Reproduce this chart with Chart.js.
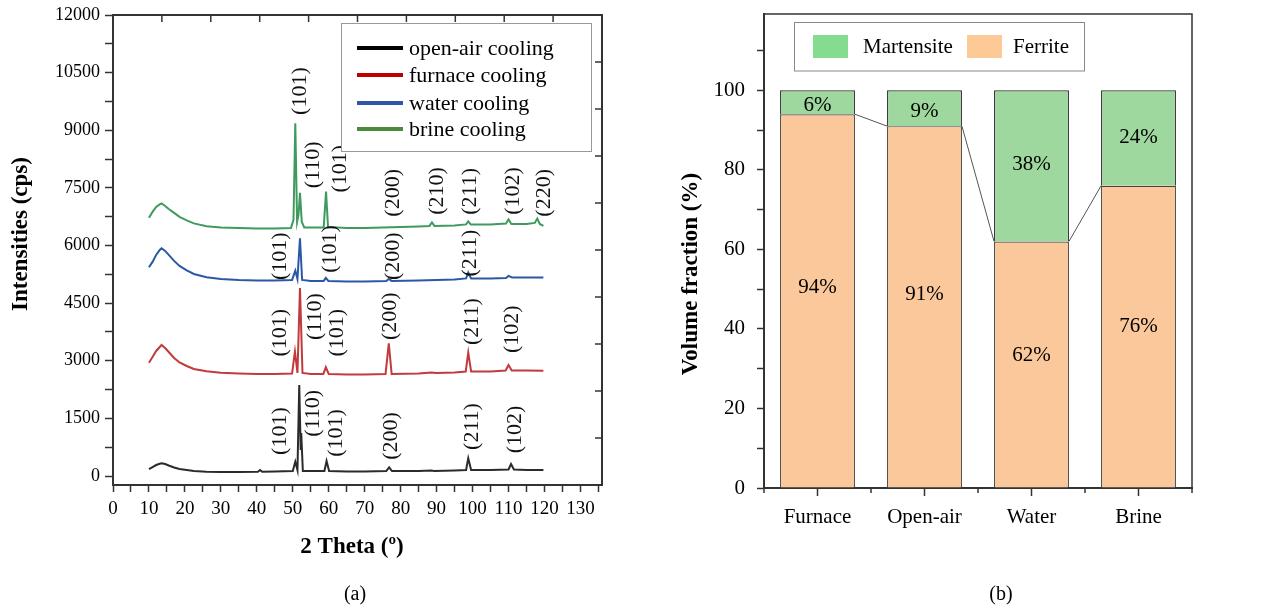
<!DOCTYPE html>
<html><head><meta charset="utf-8">
<script src="https://cdn.jsdelivr.net/npm/chart.js@4.4.0/dist/chart.umd.min.js"></script>
<style>
html,body{margin:0;padding:0;background:#fff;}
#wrap{position:relative;width:1277px;height:608px;overflow:hidden;background:#fff;}
#ca{position:absolute;left:0;top:0;}
#cb{position:absolute;left:640px;top:0;}
</style></head><body>
<div id="wrap"><canvas id="ca" width="640" height="608"></canvas><canvas id="cb" width="637" height="608"></canvas></div>
<script>
// ---------------- DATA: panel (a) XRD patterns [2theta, intensity] ----------------
const openAirXRD = [[10,182],[11,234],[12,286],[13,318],[13.5,331],[14.5,312],[15.5,273],[17,221],[18.5,182],[20.5,156],[22.5,130],[26,112],[30,104],[35,104],[40.3,109],[40.9,156],[41.5,109],[45,117],[50,130],[50.7,372],[51.3,156],[51.8,2370],[52.2,677],[52.35,1120],[52.8,130],[55,130],[58.8,130],[59.4,391],[60.1,130],[65,117],[70,117],[76,130],[76.8,226],[77.6,130],[85,130],[88.5,143],[89.3,130],[95,143],[98.2,156],[98.8,461],[99.6,156],[105,156],[110,169],[110.7,312],[111.5,169],[115,156],[119.7,156]];
const furnaceXRD = [[10,2950],[11,3099],[12,3255],[13,3359],[13.5,3411],[14.5,3333],[15.5,3229],[17,3073],[18.5,2956],[20.5,2864],[22.5,2786],[26,2726],[30,2690],[35,2669],[40,2656],[45,2656],[49.8,2669],[50.6,3237],[51.3,2682],[52.0,4890],[52.7,2682],[55,2656],[58.5,2656],[59.2,2830],[60,2656],[65,2643],[70,2643],[75.8,2656],[76.7,3455],[77.5,2656],[85,2669],[88.5,2695],[90,2682],[95,2695],[98.1,2721],[98.8,3211],[99.6,2721],[105,2721],[109.2,2747],[110,2890],[110.9,2747],[115,2747],[119.7,2742]];
const waterXRD = [[10,5435],[11,5573],[12,5755],[13,5885],[13.5,5929],[14.5,5859],[15.5,5755],[17,5599],[18.5,5468],[20.5,5351],[22.5,5260],[26,5174],[30,5130],[35,5104],[40,5091],[45,5091],[49.8,5104],[50.7,5346],[51.3,5130],[52.0,6190],[52.6,5104],[55,5078],[58.6,5078],[59.2,5156],[59.9,5078],[65,5065],[70,5065],[76,5078],[76.7,5130],[77.5,5078],[85,5091],[90,5104],[95,5117],[98.2,5143],[98.8,5294],[99.6,5143],[105,5143],[109.3,5156],[110,5208],[111,5169],[115,5169],[119.7,5169]];
const brineXRD = [[10,6720],[11,6875],[12,7005],[13,7070],[13.5,7095],[14.5,7030],[15.5,6950],[17,6850],[18.5,6745],[20.5,6653],[22.5,6575],[26,6500],[30,6471],[35,6458],[40,6445],[45,6445],[49.5,6458],[50.2,6666],[50.7,9184],[51.2,6614],[51.6,6796],[52.0,7370],[52.5,6614],[53.2,6470],[58.6,6470],[59.25,7403],[59.8,6484],[65,6458],[70,6458],[75,6470],[80,6484],[85,6497],[88.0,6510],[88.7,6601],[89.4,6510],[95,6523],[98.2,6549],[98.8,6627],[99.5,6549],[105,6549],[109.3,6575],[110,6679],[110.8,6562],[115,6562],[117.3,6588],[118,6700],[118.7,6562],[119.7,6510]];

const seriesNames = ['open-air cooling','furnace cooling','water cooling','brine cooling'];

// axis ticks of panel (a)
const thetaTicks = [0,5,10,15,20,25,30,35,40,45,50,55,60,65,70,75,80,85,90,95,100,105,110,115,120,125,130,135];
const intensityTicks = [0,750,1500,2250,3000,3750,4500,5250,6000,6750,7500,8250,9000,9750,10500,11250,12000];

// peak labels: [text, 2theta, intensity at label start]
const openAirPeaks = [['(101)',46.4,550],['(110)',55.7,1020],['(101)',62.2,500],['(200)',77.5,420],['(211)',99.8,680],['(102)',111.9,590]];
const furnacePeaks = [['(101)',46.4,3110],['(110)',56.2,3540],['(101)',62.4,3110],['(200)',77.1,3540],['(211)',99.8,3410],['(102)',111,3200]];
const waterPeaks = [['(101)',46.4,5100],['(101)',60.4,5290],['(200)',78.0,5100],['(211)',99.4,5190]];
const brinePeaks = [['(101)',52.1,9400],['(110)',55.7,7490],['(101)',63.1,7380],['(200)',77.9,6750],['(210)',90.1,6800],['(211)',99.4,6800],['(102)',111.4,6800],['(220)',119.8,6750]];

// ---------------- DATA: panel (b) phase fractions ----------------
const phaseCategories = ['Furnace','Open-air','Water','Brine'];
const ferriteValues = [94,91,62,76];
const martensiteValues = [6,9,38,24];

// ---------------- styles ----------------
const SERIF = "'Liberation Serif','Times New Roman',serif";
Chart.defaults.font.family = SERIF;
Chart.defaults.color = '#000';
Chart.defaults.animation = false;

const lineColors = ['#2b2b2b','#c23a3c','#2b58a6','#3f9a5f'];
const legendColors = ['#000000','#c00000','#2e56a6','#4a8a3b'];
const AXIS = '#333';

function toXY(arr){ return arr.map(p=>({x:p[0],y:p[1]})); }
function setTicks(list){ return s => { s.ticks = list.map(v=>({value:v})); }; }

const panelA = {
  id:'panelA',
  afterDraw(chart){
    const {ctx, chartArea:a, scales:{x,y}} = chart;
    ctx.save();
    ctx.strokeStyle = AXIS; ctx.lineWidth = 2;
    ctx.beginPath(); ctx.moveTo(a.left,a.top); ctx.lineTo(a.right,a.top); ctx.lineTo(a.right,a.bottom); ctx.stroke();
    ctx.lineWidth = 1.5;
    for(let i=1;i<10;i++){
      const tx = a.left + (a.right-a.left)*i/10;
      ctx.beginPath(); ctx.moveTo(tx,a.top); ctx.lineTo(tx,a.top+7); ctx.stroke();
      const ty = a.top + (a.bottom-a.top)*i/10;
      ctx.beginPath(); ctx.moveTo(a.right,ty); ctx.lineTo(a.right-7,ty); ctx.stroke();
    }
    ctx.fillStyle = '#111';
    ctx.font = '22px ' + SERIF;
    ctx.textAlign = 'left'; ctx.textBaseline = 'middle';
    [openAirPeaks,furnacePeaks,waterPeaks,brinePeaks].forEach(list=>{
      list.forEach(([t,tt,v])=>{
        ctx.save();
        ctx.translate(x.getPixelForValue(tt), y.getPixelForValue(v));
        ctx.rotate(-Math.PI/2);
        ctx.fillText(t,0,0);
        ctx.restore();
      });
    });
    ctx.fillStyle = '#fff';
    ctx.fillRect(341,23,251,129);
    ctx.strokeStyle = '#999'; ctx.lineWidth = 1;
    ctx.strokeRect(341.5,23.5,250,128);
    const rows = [48,75,103,129];
    ctx.font = '22px ' + SERIF;
    chart.data.datasets.forEach((ds,i)=>{
      ctx.strokeStyle = legendColors[i]; ctx.lineWidth = 4;
      ctx.beginPath(); ctx.moveTo(357,rows[i]); ctx.lineTo(403,rows[i]); ctx.stroke();
      ctx.fillStyle = '#000';
      ctx.fillText(ds.label,409,rows[i]+1);
    });
    ctx.font = 'bold 23px ' + SERIF;
    ctx.textAlign = 'center';
    ctx.fillText('2 Theta (º)', 352, 547);
    ctx.save(); ctx.translate(21,234); ctx.rotate(-Math.PI/2); ctx.fillText('Intensities (cps)',0,0); ctx.restore();
    ctx.font = '20px ' + SERIF;
    ctx.fillText('(a)', 355, 595);
    ctx.restore();
  }
};

new Chart(document.getElementById('ca'), {
  type:'scatter',
  data:{ datasets:[openAirXRD,furnaceXRD,waterXRD,brineXRD].map((d,i)=>({
    label:seriesNames[i], data:toXY(d), showLine:true, borderColor:lineColors[i],
    borderWidth:2, pointRadius:0, tension:0, fill:false }))},
  options:{
    responsive:false, animation:false,
    layout:{padding:{top:15,right:38,left:0,bottom:0}},
    plugins:{legend:{display:false},tooltip:{enabled:false}},
    scales:{
      x:{type:'linear',min:0,max:136,
        afterBuildTicks:setTicks(thetaTicks),
        afterFit(s){ s.height = 123; s.paddingLeft = 0; s.paddingRight = 0; },
        border:{color:AXIS,width:2},
        grid:{drawOnChartArea:false,tickLength:7,tickColor:AXIS,tickWidth:1.5},
        ticks:{autoSkip:false,maxRotation:0,padding:6,
          font:{size:19},callback:v=> (v%10===0 && v<=130 ? String(v) : '')}},
      y:{type:'linear',min:-234,max:12000,
        afterBuildTicks:setTicks(intensityTicks),
        afterFit(s){ s.width = 113; s.paddingTop = 0; s.paddingBottom = 0; },
        border:{color:AXIS,width:2},
        grid:{drawOnChartArea:false,tickLength:8,tickColor:AXIS,tickWidth:1.5},
        ticks:{autoSkip:false,padding:5,
          font:{size:18},callback:v=> (v%1500===0 ? String(v) : '')}}
    }
  },
  plugins:[panelA]
});

// ---------------- panel (b) ----------------
const barFerrite = '#fac89a', barMart = '#9fd89f';
const panelB = {
  id:'panelB',
  afterDatasetsDraw(chart){
    const {ctx} = chart;
    const fer = chart.getDatasetMeta(0).data;
    const mar = chart.getDatasetMeta(1).data;
    ctx.save();
    ctx.strokeStyle = '#555'; ctx.lineWidth = 1;
    for(let i=0;i<fer.length-1;i++){
      const b1 = fer[i], b2 = fer[i+1];
      ctx.beginPath();
      ctx.moveTo(b1.x + b1.width/2, b1.y);
      ctx.lineTo(b2.x - b2.width/2, b2.y);
      ctx.stroke();
    }
    ctx.fillStyle = '#000'; ctx.font = '21px ' + SERIF;
    ctx.textAlign = 'center'; ctx.textBaseline = 'middle';
    fer.forEach((b,i)=>{ ctx.fillText(ferriteValues[i]+'%', b.x, b.base - 0.535*(b.base - b.y)); });
    mar.forEach((b,i)=>{ const h = b.base - b.y; ctx.fillText(martensiteValues[i]+'%', b.x, (b.y+b.base)/2 + (h < 50 ? 3 : -1)); });
    ctx.restore();
  },
  afterDraw(chart){
    const {ctx, chartArea:a} = chart;
    ctx.save();
    ctx.strokeStyle = AXIS; ctx.lineWidth = 1.5;
    ctx.beginPath(); ctx.moveTo(a.left,a.top); ctx.lineTo(a.right,a.top); ctx.lineTo(a.right,a.bottom); ctx.stroke();
    for(let i=0;i<=4;i++){
      const tx = a.left + (a.right-a.left)*i/4;
      ctx.beginPath(); ctx.moveTo(tx,a.bottom); ctx.lineTo(tx,a.bottom+5); ctx.stroke();
    }
    ctx.strokeStyle = '#888'; ctx.lineWidth = 1;
    ctx.strokeRect(154.5,22.5,290,48.5);
    ctx.fillStyle = '#85db8e'; ctx.fillRect(173,35,35,23);
    ctx.fillStyle = '#fdc997'; ctx.fillRect(327,35,35,23);
    ctx.fillStyle = '#000'; ctx.font = '21px ' + SERIF;
    ctx.textAlign = 'left'; ctx.textBaseline = 'middle';
    ctx.fillText(chart.data.datasets[1].label, 223, 47);
    ctx.fillText(chart.data.datasets[0].label, 373, 47);
    ctx.textAlign = 'center';
    ctx.font = 'bold 23px ' + SERIF;
    ctx.save(); ctx.translate(51,274); ctx.rotate(-Math.PI/2); ctx.fillText('Volume fraction (%)',0,0); ctx.restore();
    ctx.font = '20px ' + SERIF;
    ctx.fillText('(b)', 361, 595);
    ctx.restore();
  }
};

new Chart(document.getElementById('cb'), {
  type:'bar',
  data:{ labels:phaseCategories, datasets:[
    {label:'Ferrite', data:ferriteValues, backgroundColor:barFerrite, borderColor:'#4a4038', borderWidth:1.2, borderSkipped:'start', barPercentage:0.7, categoryPercentage:1.0},
    {label:'Martensite', data:martensiteValues, backgroundColor:barMart, borderColor:'#2a2a2a', borderWidth:1.2, borderSkipped:'start', barPercentage:0.7, categoryPercentage:1.0}
  ]},
  options:{
    responsive:false, animation:false,
    layout:{padding:{top:14,right:85,left:0,bottom:0}},
    plugins:{legend:{display:false},tooltip:{enabled:false}},
    scales:{
      x:{stacked:true,
        afterFit(s){ s.height = 120; s.paddingLeft = 0; s.paddingRight = 0; },
        border:{color:AXIS,width:2},
        grid:{offset:false,drawOnChartArea:false,tickLength:8,tickColor:AXIS,tickWidth:1.5},
        ticks:{padding:9,font:{size:21},maxRotation:0}},
      y:{stacked:true,min:0,max:119.2,
        afterFit(s){ s.width = 124; s.paddingTop = 0; s.paddingBottom = 0; },
        border:{color:AXIS,width:2},
        grid:{drawOnChartArea:false,tickLength:7,tickColor:AXIS,tickWidth:1.5},
        ticks:{stepSize:10,includeBounds:false,autoSkip:false,padding:12,font:{size:21},
          callback:v=> (v%20===0 && v<=100 ? String(v) : '')}}
    }
  },
  plugins:[panelB]
});
</script>
</body></html>
